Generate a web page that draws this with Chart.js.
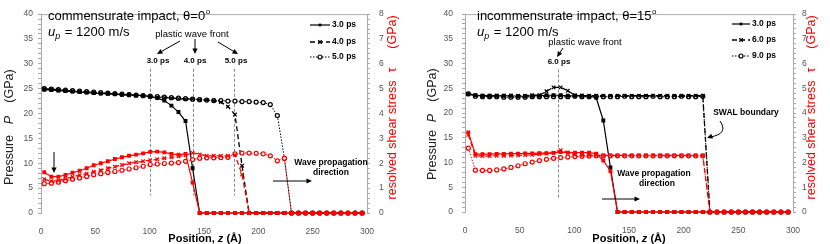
<!DOCTYPE html>
<html>
<head>
<meta charset="utf-8">
<script src="https://cdn.jsdelivr.net/npm/chart.js@4.4.1/dist/chart.umd.min.js"></script>
<style>
  body { margin: 0; background: #fff; }
  #quadro { position: relative; width: 830px; height: 244px; }
  canvas { position: absolute; top: 0; }
</style>
</head>
<body>
<div id="quadro">
  <canvas id="graficoComensurado" width="415" height="244" style="left:0"></canvas>
  <canvas id="graficoIncomensurado" width="415" height="244" style="left:415px"></canvas>
</div>
<script>
// posições z (Å) dos pontos amostrados
const posicoes = [3, 9.5, 16, 22.5, 29, 35.5, 42, 48.5, 55, 61.5,
  68, 74.5, 81, 87.5, 94, 100.5, 107, 113.5, 120, 126.5,
  133, 139.5, 146, 152.5, 159, 165.5, 172, 178.5, 185, 191.5,
  198, 204.5, 211, 217.5, 224, 230.5, 237, 243.5, 250, 256.5,
  263, 269.5, 276, 282.5, 289, 295.5]

const ticksX = [0, 50, 100, 150, 200, 250, 300]

// painel esquerdo: impacto comensurado, theta = 0
const tempos0 = ["3.0 ps", "4.0 ps", "5.0 ps"]
const pressao0_3ps = [24.8, 24.7, 24.6, 24.5, 24.4, 24.3, 24.2, 24.1, 24.0, 24.0,
  23.9, 23.8, 23.8, 23.7, 23.6, 23.4, 23.1, 22.6, 21.6, 20.3,
  18.5, 9.0, 0, 0, 0, 0, 0, 0, 0, 0,
  0, 0, 0, 0, 0, 0, 0, 0, 0, 0,
  0, 0, 0, 0, 0, 0]
const pressao0_4ps = [25.0, 24.9, 24.8, 24.6, 24.5, 24.4, 24.3, 24.2, 24.1, 24.0,
  23.9, 23.8, 23.7, 23.6, 23.5, 23.4, 23.3, 23.2, 23.1, 23.0,
  22.9, 22.9, 22.8, 22.7, 22.6, 22.3, 21.4, 19.8, 9.5, 0,
  0, 0, 0, 0, 0, 0, 0, 0, 0, 0,
  0, 0, 0, 0, 0, 0]
const pressao0_5ps = [25.0, 24.9, 24.8, 24.7, 24.6, 24.5, 24.4, 24.3, 24.2, 24.1,
  24.0, 23.9, 23.8, 23.7, 23.6, 23.5, 23.4, 23.3, 23.2, 23.1,
  23.0, 22.9, 22.8, 22.7, 22.6, 22.6, 22.5, 22.5, 22.4, 22.4,
  22.3, 22.2, 21.8, 19.6, 11.0, 0, 0, 0, 0, 0,
  0, 0, 0, 0, 0, 0]
const tensao0_3ps = [1.64, 1.46, 1.46, 1.53, 1.62, 1.70, 1.80, 1.92, 2.00, 2.08,
  2.17, 2.24, 2.30, 2.35, 2.40, 2.46, 2.47, 2.44, 2.38, 2.35,
  2.38, 1.22, 0, 0, 0, 0, 0, 0, 0, 0,
  0, 0, 0, 0, 0, 0, 0, 0, 0, 0,
  0, 0, 0, 0, 0, 0]
const tensao0_4ps = [1.36, 1.28, 1.30, 1.38, 1.45, 1.52, 1.58, 1.66, 1.72, 1.80,
  1.86, 1.93, 2.00, 2.04, 2.08, 2.12, 2.16, 2.20, 2.24, 2.28,
  2.32, 2.42, 2.36, 2.30, 2.30, 2.30, 2.30, 2.34, 1.55, 0,
  0, 0, 0, 0, 0, 0, 0, 0, 0, 0,
  0, 0, 0, 0, 0, 0]
const tensao0_5ps = [1.18, 1.20, 1.24, 1.30, 1.36, 1.41, 1.47, 1.54, 1.58, 1.63,
  1.67, 1.72, 1.77, 1.82, 1.88, 1.95, 1.97, 1.99, 2.01, 2.03,
  2.08, 2.15, 2.20, 2.22, 2.22, 2.23, 2.24, 2.38, 2.41, 2.41,
  2.40, 2.38, 2.30, 2.10, 2.20, 0, 0, 0, 0, 0,
  0, 0, 0, 0, 0, 0]
const frentes0 = [100, 140, 177.5]

// painel direito: impacto incomensurado, theta = 15
const tempos15 = ["3.0 ps", "6.0 ps", "9.0 ps"]
const pressao15_3ps = [23.8, 23.6, 23.5, 23.5, 23.5, 23.5, 23.5, 23.4, 23.4, 23.5,
  23.5, 23.6, 23.6, 23.6, 23.5, 23.5, 23.5, 23.4, 23.1, 18.5,
  9.0, 0, 0, 0, 0, 0, 0, 0, 0, 0,
  0, 0, 0, 0, 0, 0, 0, 0, 0, 0,
  0, 0, 0, 0, 0, 0]
const pressao15_6ps = [23.9, 23.6, 23.5, 23.5, 23.5, 23.5, 23.5, 23.5, 23.5, 23.6,
  23.6, 24.4, 25.2, 25.2, 24.5, 23.6, 23.5, 23.5, 23.5, 23.5,
  23.5, 23.5, 23.5, 23.5, 23.5, 23.5, 23.5, 23.5, 23.5, 23.5,
  23.5, 23.5, 23.5, 23.5, 0, 0, 0, 0, 0, 0,
  0, 0, 0, 0, 0, 0]
const pressao15_9ps = [23.9, 23.4, 23.3, 23.3, 23.3, 23.2, 23.2, 23.2, 23.2, 23.3,
  23.3, 23.3, 23.3, 23.3, 23.3, 23.4, 23.3, 23.3, 23.4, 23.3,
  23.3, 23.3, 23.4, 23.3, 23.3, 23.3, 23.4, 23.3, 23.3, 23.3,
  23.4, 23.3, 23.3, 23.4, 0, 0, 0, 0, 0, 0,
  0, 0, 0, 0, 0, 0]
const tensao15_3ps = [3.22, 2.34, 2.34, 2.34, 2.35, 2.35, 2.36, 2.36, 2.37, 2.37,
  2.38, 2.38, 2.39, 2.42, 2.40, 2.40, 2.40, 2.40, 2.36, 2.08,
  1.66, 0, 0, 0, 0, 0, 0, 0, 0, 0,
  0, 0, 0, 0, 0, 0, 0, 0, 0, 0,
  0, 0, 0, 0, 0, 0]
const tensao15_6ps = [3.12, 2.27, 2.26, 2.26, 2.27, 2.27, 2.28, 2.29, 2.30, 2.31,
  2.33, 2.36, 2.40, 2.50, 2.40, 2.31, 2.29, 2.29, 2.29, 2.29,
  2.29, 2.29, 2.29, 2.29, 2.29, 2.29, 2.29, 2.29, 2.29, 2.29,
  2.29, 2.29, 2.29, 2.29, 0, 0, 0, 0, 0, 0,
  0, 0, 0, 0, 0, 0]
const tensao15_9ps = [2.58, 1.69, 1.68, 1.68, 1.70, 1.74, 1.80, 1.87, 1.95, 2.02,
  2.08, 2.13, 2.17, 2.20, 2.22, 2.24, 2.25, 2.26, 2.27, 2.27,
  2.27, 2.27, 2.27, 2.27, 2.27, 2.27, 2.27, 2.27, 2.27, 2.27,
  2.27, 2.27, 2.27, 2.27, 0, 0, 0, 0, 0, 0,
  0, 0, 0, 0, 0, 0]
const frentes15 = [85]

const fonte = "'Liberation Sans', Arial, sans-serif"
Chart.defaults.font.family = fonte
Chart.defaults.color = "#555"

const cinza = "#aaaaaa"
const vermelho = "#ff0000"

// estilo de cada tempo: continuo, tracejado, pontilhado
const estilos = [
  { traco: [], ponto: "rect", raio: 1.9, largura: 1.2 },
  { traco: [5, 3], ponto: "crossRot", raio: 2.5, largura: 1.3 },
  { traco: [1.5, 1.5], ponto: "circle", raio: 2, largura: 1 },
]

function serie(valores) {
  return valores.map((v, i) => ({ x: posicoes[i], y: v }))
}

// circulo vazado nas curvas, cheio quando esta no zero
function preenchimento(cor, estilo) {
  if (estilo.ponto !== "circle") return cor
  return c => (c.raw && c.raw.y === 0 ? cor : "#fff")
}

function montaDatasets(pressoes, tensoes, rotulos) {
  const lista = []
  // vermelho primeiro pra ficar por cima
  tensoes.forEach((valores, i) => {
    lista.push({
      label: rotulos[i] + " tau",
      data: serie(valores),
      yAxisID: "y2",
      borderColor: vermelho,
      borderWidth: estilos[i].largura,
      borderDash: estilos[i].traco,
      pointStyle: estilos[i].ponto,
      pointRadius: estilos[i].raio,
      pointBorderColor: vermelho,
      pointBackgroundColor: preenchimento(vermelho, estilos[i]),
      pointBorderWidth: 1.2,
      order: 0,
      clip: false,
    })
  })
  pressoes.forEach((valores, i) => {
    lista.push({
      label: rotulos[i],
      data: serie(valores),
      yAxisID: "y",
      borderColor: "#000",
      borderWidth: estilos[i].largura,
      borderDash: estilos[i].traco,
      pointStyle: estilos[i].ponto,
      pointRadius: estilos[i].raio,
      pointBorderColor: "#000",
      pointBackgroundColor: preenchimento("#000", estilos[i]),
      pointBorderWidth: 1.2,
      order: 1,
      clip: false,
    })
  })
  return lista
}

function escalas(m) {
  return {
    x: {
      type: "linear", min: 0, max: 300,
      afterBuildTicks: s => { s.ticks = ticksX.map(v => ({ value: v })) },
      ticks: { padding: 6, font: { size: 8.5 }, color: "#555" },
      grid: { display: false },
      border: { display: false },
      afterFit: s => { s.height = m.baixo },
    },
    y: {
      position: "left", min: 0, max: 40,
      ticks: { stepSize: 1, autoSkip: false, padding: m.padEsq, font: { size: 8.5 }, color: "#555",
        callback: v => (v % 5 === 0 ? v : "") },
      grid: { drawOnChartArea: false, tickLength: 3, color: cinza },
      border: { color: cinza },
      afterFit: s => { s.width = m.esq },
    },
    y2: {
      position: "right", min: 0, max: 8,
      ticks: { stepSize: 0.2, autoSkip: false, padding: m.padDir, font: { size: 8.5 }, color: "#555",
        callback: v => (Math.abs(v - Math.round(v)) < 1e-6 ? Math.round(v) : "") },
      grid: { drawOnChartArea: false, tickLength: 3, color: cinza },
      border: { color: cinza },
      afterFit: s => { s.width = m.dir },
    },
  }
}

// funções de desenho
function seta(ctx, x1, y1, x2, y2) {
  const ang = Math.atan2(y2 - y1, x2 - x1)
  ctx.beginPath()
  ctx.moveTo(x1, y1)
  ctx.lineTo(x2 - 3 * Math.cos(ang), y2 - 3 * Math.sin(ang))
  ctx.stroke()
  ctx.beginPath()
  ctx.moveTo(x2, y2)
  ctx.lineTo(x2 - 5.5 * Math.cos(ang) + 2.6 * Math.sin(ang), y2 - 5.5 * Math.sin(ang) - 2.6 * Math.cos(ang))
  ctx.lineTo(x2 - 5.5 * Math.cos(ang) - 2.6 * Math.sin(ang), y2 - 5.5 * Math.sin(ang) + 2.6 * Math.cos(ang))
  ctx.closePath()
  ctx.fill()
}

function marcador(ctx, estilo, x, y) {
  ctx.lineWidth = 1.2
  ctx.setLineDash([])
  const r = estilo.raio
  if (estilo.ponto === "rect") {
    const s = r * Math.SQRT1_2
    ctx.fillRect(x - s, y - s, 2 * s, 2 * s)
  } else if (estilo.ponto === "crossRot") {
    const s = r * Math.SQRT1_2
    ctx.beginPath()
    ctx.moveTo(x - s, y - s); ctx.lineTo(x + s, y + s)
    ctx.moveTo(x - s, y + s); ctx.lineTo(x + s, y - s)
    ctx.stroke()
  } else {
    ctx.beginPath()
    ctx.arc(x, y, r, 0, Math.PI * 2)
    ctx.fillStyle = "#fff"
    ctx.fill()
    ctx.stroke()
  }
}

function anotacoes(cfg) {
  return {
    id: "anotacoes",
    beforeDatasetsDraw(chart) {
      const { ctx, scales } = chart
      ctx.save()
      ctx.strokeStyle = "#888"
      ctx.lineWidth = 1
      ctx.setLineDash([3, 2])
      cfg.frentes.forEach(z => {
        const x = Math.round(scales.x.getPixelForValue(z)) + 0.5
        ctx.beginPath()
        ctx.moveTo(x, scales.y.getPixelForValue(cfg.frenteTopo))
        ctx.lineTo(x, scales.y.getPixelForValue(cfg.frenteBase))
        ctx.stroke()
      })
      ctx.restore()
    },
    afterDraw(chart) {
      const { ctx, chartArea } = chart
      ctx.save()
      // borda de cima
      ctx.strokeStyle = cinza
      ctx.lineWidth = 1
      ctx.beginPath()
      ctx.moveTo(chartArea.left, chartArea.top + 0.5)
      ctx.lineTo(chartArea.right, chartArea.top + 0.5)
      ctx.stroke()

      ctx.fillStyle = "#000"
      ctx.textBaseline = "alphabetic"
      ctx.textAlign = "left"

      // titulo com o grau sobrescrito
      ctx.font = "13px " + fonte
      ctx.fillText(cfg.titulo, cfg.tituloX, cfg.tituloY)
      const wt = ctx.measureText(cfg.titulo).width
      ctx.font = "8px " + fonte
      ctx.fillText("o", cfg.tituloX + wt + 0.5, cfg.tituloY - 6)

      // u_p = 1200 m/s
      ctx.font = "italic 13px " + fonte
      ctx.fillText("u", cfg.tituloX, cfg.tituloY + 16)
      const wu = ctx.measureText("u").width
      ctx.font = "italic 9px " + fonte
      ctx.fillText("p", cfg.tituloX + wu, cfg.tituloY + 19)
      const wp = ctx.measureText("p").width
      ctx.font = "13px " + fonte
      ctx.fillText(" = 1200 m/s", cfg.tituloX + wu + wp + 1, cfg.tituloY + 16)

      // textos soltos
      ctx.textAlign = "center"
      cfg.textos.forEach(t => {
        ctx.font = t.fonte + " " + fonte
        ctx.fillText(t.texto, t.x, t.y)
      })

      // setas
      ctx.strokeStyle = "#000"
      ctx.fillStyle = "#000"
      ctx.lineWidth = 1
      cfg.setas.forEach(s => seta(ctx, s[0], s[1], s[2], s[3]))
      if (cfg.curva) {
        const c = cfg.curva
        ctx.beginPath()
        ctx.moveTo(c[0], c[1])
        ctx.quadraticCurveTo(c[2], c[3], c[4] + 3, c[5] - 1)
        ctx.stroke()
        seta(ctx, c[4] + 4, c[5] - 1.5, c[4], c[5])
      }

      // legenda
      cfg.rotulos.forEach((r, i) => {
        const e = estilos[i]
        const y = cfg.legY[i]
        ctx.strokeStyle = "#000"
        ctx.fillStyle = "#000"
        ctx.lineWidth = e.largura
        ctx.setLineDash(e.traco)
        ctx.beginPath()
        ctx.moveTo(cfg.legX1, y)
        ctx.lineTo(cfg.legX2, y)
        ctx.stroke()
        marcador(ctx, e, (cfg.legX1 + cfg.legX2) / 2, y)
        ctx.fillStyle = "#000"
        ctx.font = "bold 8.5px " + fonte
        ctx.textAlign = "left"
        ctx.textBaseline = "middle"
        ctx.fillText(r, cfg.legX2 + 2, y)
      })

      // titulos dos eixos (girados)
      ctx.textAlign = "center"
      ctx.textBaseline = "middle"
      const girado = (texto, x, y, estilo, cor) => {
        ctx.save()
        ctx.translate(x, y)
        ctx.rotate(-Math.PI / 2)
        ctx.fillStyle = cor
        ctx.font = estilo + "12.5px " + fonte
        ctx.fillText(texto, 0, 0)
        ctx.restore()
      }
      girado("Pressure", cfg.eixoEsqX, cfg.pressaoY[0], "", "#222")
      girado("P", cfg.eixoEsqX, cfg.pressaoY[1], "italic ", "#222")
      girado("(GPa)", cfg.eixoEsqX, cfg.pressaoY[2], "", "#222")
      girado("resolved shear stress", cfg.eixoDirX, cfg.tensaoY[0], "", vermelho)
      girado("τ", cfg.eixoDirX, cfg.tensaoY[1], "", vermelho)
      girado("(GPa)", cfg.eixoDirX, cfg.tensaoY[2], "", vermelho)

      // titulo do eixo x
      ctx.textBaseline = "alphabetic"
      ctx.textAlign = "left"
      ctx.fillStyle = "#000"
      const partes = [["Position, ", "bold "], ["z", "bold italic "], [" (Å)", "bold "]]
      let largura = 0
      partes.forEach(p => { ctx.font = p[1] + "11px " + fonte; largura += ctx.measureText(p[0]).width })
      let xx = cfg.eixoXCentro - largura / 2
      partes.forEach(p => {
        ctx.font = p[1] + "11px " + fonte
        ctx.fillText(p[0], xx, 242)
        xx += ctx.measureText(p[0]).width
      })
      ctx.restore()
    },
  }
}

function criaGrafico(id, pressoes, tensoes, rotulos, medidas, cfg) {
  return new Chart(document.getElementById(id), {
    type: "line",
    data: { datasets: montaDatasets(pressoes, tensoes, rotulos) },
    options: {
      responsive: false,
      animation: false,
      events: [],
      layout: { padding: { top: medidas.topo, left: 0, right: 0, bottom: 0 } },
      elements: { line: { tension: 0 } },
      scales: escalas(medidas),
      plugins: { legend: { display: false }, tooltip: { enabled: false } },
    },
    plugins: [anotacoes(cfg)],
  })
}

// grafico da esquerda
criaGrafico("graficoComensurado",
  [pressao0_3ps, pressao0_4ps, pressao0_5ps],
  [tensao0_3ps, tensao0_4ps, tensao0_5ps],
  tempos0,
  { topo: 7, baixo: 31, esq: 41, dir: 48, padEsq: 5, padDir: 9 },
  {
    titulo: "commensurate impact, θ=0", tituloX: 48, tituloY: 20,
    frentes: frentes0, frenteTopo: 29, frenteBase: 3.5,
    textos: [
      { texto: "plastic wave front", x: 192, y: 37, fonte: "9.5px" },
      { texto: "3.0 ps", x: 158, y: 63, fonte: "bold 8px" },
      { texto: "4.0 ps", x: 195, y: 63, fonte: "bold 8px" },
      { texto: "5.0 ps", x: 236, y: 63, fonte: "bold 8px" },
      { texto: "Wave propagation", x: 331, y: 165, fonte: "bold 8.5px" },
      { texto: "direction", x: 331, y: 175, fonte: "bold 8.5px" },
    ],
    setas: [[180, 41, 157, 54], [195, 39, 195, 54], [218, 42, 238, 54],
      [54, 152, 54, 173], [273, 181, 312, 181]],
    rotulos: tempos0, legX1: 310, legX2: 330, legY: [25, 42, 57],
    eixoEsqX: 10, pressaoY: [160, 120, 86],
    eixoDirX: 393, tensaoY: [140, 70, 32],
    eixoXCentro: 205,
  })

// grafico da direita
criaGrafico("graficoIncomensurado",
  [pressao15_3ps, pressao15_6ps, pressao15_9ps],
  [tensao15_3ps, tensao15_6ps, tensao15_9ps],
  tempos15,
  { topo: 5, baixo: 32, esq: 50, dir: 37, padEsq: 9, padDir: 6 },
  {
    titulo: "incommensurate impact, θ=15", tituloX: 62, tituloY: 20,
    frentes: frentes15, frenteTopo: 28.8, frenteBase: 2.5,
    textos: [
      { texto: "plastic wave front", x: 170, y: 45, fonte: "9.5px" },
      { texto: "6.0 ps", x: 144, y: 64, fonte: "bold 8px" },
      { texto: "SWAL boundary", x: 331, y: 115, fonte: "bold 8.5px" },
      { texto: "Wave propagation", x: 239, y: 176, fonte: "bold 8.5px" },
      { texto: "direction", x: 242, y: 186, fonte: "bold 8.5px" },
    ],
    setas: [[148, 48, 142, 57], [187, 199, 225, 199]],
    curva: [305, 121, 314, 134, 292, 138],
    rotulos: tempos15, legX1: 317, legX2: 335, legY: [24, 40, 56],
    eixoEsqX: 18, pressaoY: [155, 118, 85],
    eixoDirX: 397, tensaoY: [140, 70, 32],
    eixoXCentro: 214,
  })
</script>
</body>
</html>
